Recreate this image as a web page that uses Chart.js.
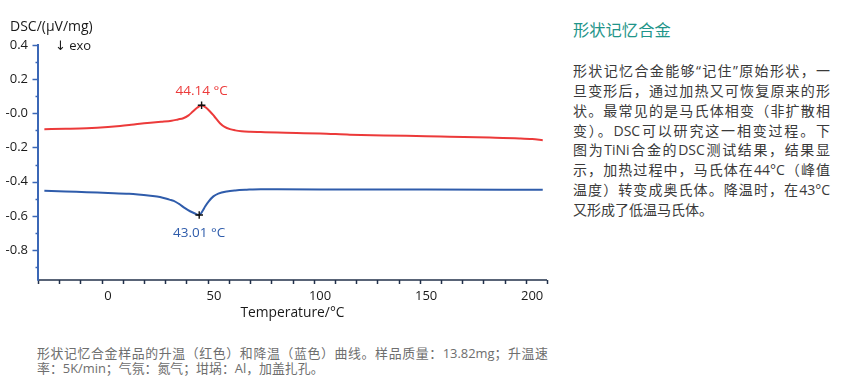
<!DOCTYPE html>
<html><head><meta charset="utf-8">
<script src="https://cdn.jsdelivr.net/npm/chart.js@4.4.0/dist/chart.umd.min.js"></script>
<style>
html,body{margin:0;padding:0;background:#fff;}
body{width:846px;height:380px;position:relative;overflow:hidden;font-family:"Open Sans","Noto Sans CJK SC",sans-serif;}
#wrap{position:absolute;left:0;top:0;width:560px;height:330px;}
.side-title{position:absolute;left:573px;top:18px;font-size:16.3px;line-height:22px;color:#1f958a;font-family:"Noto Sans CJK SC",sans-serif;white-space:nowrap;}
.para{position:absolute;left:573px;top:61px;width:257px;font-size:14px;line-height:19.85px;color:#3a3a3a;}
.para div,.cap div{text-align:justify;text-align-last:justify;}
.para div.last,.cap div.last{text-align:left;text-align-last:left;}
.cap{position:absolute;left:37px;top:345.5px;width:511px;font-size:12.9px;line-height:15px;color:#6e6e6e;}
</style></head>
<body>
<div id="wrap"><canvas id="c" width="560" height="330"></canvas></div>
<div class="side-title">形状记忆合金</div>
<div class="para">
<div>形状记忆合金能够“记住”原始形状，一</div>
<div>旦变形后，通过加热又可恢复原来的形</div>
<div>状。最常见的是马氏体相变（非扩散相</div>
<div>变）。DSC可以研究这一相变过程。下</div>
<div>图为TiNi合金的DSC测试结果，结果显</div>
<div>示，加热过程中，马氏体在44°C（峰值</div>
<div>温度）转变成奥氏体。降温时，在43°C</div>
<div class="last">又形成了低温马氏体。</div>
</div>
<div class="cap">
<div>形状记忆合金样品的升温（红色）和降温（蓝色）曲线。样品质量：13.82mg；升温速</div>
<div class="last">率：5K/min；气氛：氮气；坩埚：Al，加盖扎孔。</div>
</div>
<script>
// ---- data ----
const redTemps  = [-30, -20, -10, 0, 5.7, 10, 15, 20, 25, 30, 33, 35.5, 38, 40, 42, 44.14, 46, 48, 50, 52.8, 55, 57.5, 60, 63, 67, 72, 80, 100, 114, 130, 150, 161, 180, 194, 200, 205];
const redValues = [-0.093, -0.091, -0.088, -0.081, -0.075, -0.069, -0.061, -0.055, -0.050, -0.044, -0.036, -0.029, -0.012, 0.010, 0.032, 0.047, 0.035, 0.012, -0.016, -0.058, -0.080, -0.093, -0.100, -0.105, -0.108, -0.110, -0.113, -0.118, -0.125, -0.130, -0.134, -0.137, -0.142, -0.147, -0.151, -0.158];
const blueTemps  = [-30, -20, -10, 0, 10, 20, 24.5, 29, 31, 33.5, 36.3, 38.7, 41, 43.01, 44.5, 45.8, 47.5, 49.7, 52, 56, 60, 65.4, 72, 80, 100, 150, 205];
const blueValues = [-0.453, -0.457, -0.462, -0.466, -0.471, -0.483, -0.490, -0.505, -0.512, -0.530, -0.555, -0.573, -0.586, -0.595, -0.573, -0.545, -0.515, -0.486, -0.470, -0.457, -0.451, -0.447, -0.444, -0.445, -0.446, -0.446, -0.447];
const peakTemps  = [44.14, 43.01];
const peakValues = [0.047, -0.595];
const peakLabels = ['44.14 °C', '43.01 °C'];
const xTickLabels = [0, 50, 100, 150, 200];
const yTickLabels = [0.4, 0.2, -0.0, -0.2, -0.4, -0.6, -0.8];
const yTickTexts  = ['0.4', '0.2', '-0.0', '-0.2', '-0.4', '-0.6', '-0.8'];
const xTitle = 'Temperature/°C';
const yTitle = 'DSC/(µV/mg)';
const dirNote = '↓ exo';

const RED = '#ec3a3a', BLUE = '#2f5cab';
const pts = (xs, ys) => xs.map((x, i) => ({x, y: ys[i]}));
const isX = v => xTickLabels.some(t => Math.abs(t - v) < 1e-6);
const yIdx = v => yTickLabels.findIndex(t => Math.abs(t - v) < 1e-6);

const deco = {
  id: 'deco',
  afterDraw(chart) {
    const {ctx, chartArea: a, scales: {x, y}} = chart;
    ctx.save();
    // x axis line + ticks
    ctx.strokeStyle = '#22304a'; ctx.lineWidth = 1.5;
    ctx.beginPath(); ctx.moveTo(a.left, a.bottom); ctx.lineTo(a.right, a.bottom); ctx.stroke();
    x.ticks.forEach(t => {
      const px = Math.round(x.getPixelForValue(t.value)) + 0.5;
      ctx.beginPath(); ctx.moveTo(px, a.bottom); ctx.lineTo(px, a.bottom + (isX(t.value) ? 5.5 : 4)); ctx.stroke();
    });
    // x tick labels
    ctx.fillStyle = '#1a1a1a';
    ctx.font = '13px "Open Sans", sans-serif';
    ctx.textAlign = 'center'; ctx.textBaseline = 'middle';
    xTickLabels.forEach(v => {
      ctx.fillText(String(v), x.getPixelForValue(v), a.bottom + 16);
    });
    // y axis line + ticks
    ctx.strokeStyle = '#3b67b6'; ctx.lineWidth = 2;
    ctx.beginPath(); ctx.moveTo(a.left, a.top); ctx.lineTo(a.left, a.bottom + 0.75); ctx.stroke();
    ctx.lineWidth = 1.5;
    y.ticks.forEach(t => {
      const py = Math.round(y.getPixelForValue(t.value)) + 0.5;
      const major = yIdx(t.value) >= 0;
      ctx.beginPath(); ctx.moveTo(a.left, py); ctx.lineTo(a.left - (major ? 5.5 : 2.5), py); ctx.stroke();
    });
    // peak labels
    ctx.font = '13.5px "Open Sans", sans-serif';
    peakTemps.forEach((t, i) => {
      const px = x.getPixelForValue(t), py = y.getPixelForValue(peakValues[i]);
      ctx.fillStyle = i === 0 ? RED : BLUE;
      ctx.fillText(peakLabels[i], px, i === 0 ? py - 14 : py + 18);
    });
    // y title & note
    ctx.fillStyle = '#1a1a1a'; ctx.textAlign = 'left';
    ctx.font = '14px "Open Sans", sans-serif';
    ctx.fillText(yTitle, 10, 27.5);
    ctx.font = '13px "Open Sans", "DejaVu Sans", sans-serif';
    ctx.fillText(dirNote, 55, 46);
    ctx.restore();
  }
};

new Chart(document.getElementById('c'), {
  type: 'line',
  data: {
    datasets: [
      {data: pts(peakTemps, peakValues), showLine: false, pointStyle: 'cross', pointRadius: 3.8, pointBorderColor: '#111', pointBorderWidth: 1.4, order: 0},
      {data: pts(redTemps, redValues), borderColor: RED, borderWidth: 2, pointRadius: 0, cubicInterpolationMode: 'monotone', order: 1},
      {data: pts(blueTemps, blueValues), borderColor: BLUE, borderWidth: 2, pointRadius: 0, cubicInterpolationMode: 'monotone', order: 1}
    ]
  },
  options: {
    responsive: false, animation: false,
    layout: {padding: {top: 44, right: 13, left: 0, bottom: 0}},
    plugins: {legend: {display: false}, tooltip: {enabled: false}},
    scales: {
      x: {
        type: 'linear', min: -33, max: 207,
        grid: {display: false, drawTicks: false}, border: {display: false},
        ticks: {display: false, stepSize: 10, includeBounds: false, autoSkip: false, maxRotation: 0},
        title: {display: true, text: xTitle, color: '#1a1a1a', font: {family: '"Open Sans", sans-serif', size: 13.8}, padding: {top: 0, bottom: 8.7}},
        afterFit: s => { s.height = 50; }
      },
      y: {
        type: 'linear', min: -0.975, max: 0.405,
        grid: {display: false, drawTicks: false}, border: {display: false},
        ticks: {stepSize: 0.1, includeBounds: false, autoSkip: false, padding: 10,
          color: '#1a1a1a', font: {family: '"Open Sans", sans-serif', size: 13},
          callback: v => { const i = yIdx(v); return i >= 0 ? yTickTexts[i] : ''; }},
        afterFit: s => { s.width = 38; }
      }
    }
  },
  plugins: [deco]
});
</script>
</body></html>
